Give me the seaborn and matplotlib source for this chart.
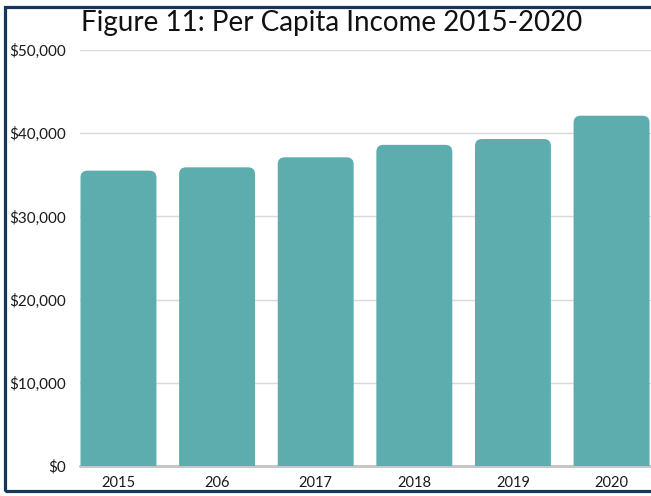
import matplotlib
matplotlib.use("Agg")
import matplotlib.pyplot as plt
import seaborn as sns
import pandas as pd
from matplotlib.patches import FancyBboxPatch, Rectangle

years = ["2015", "206", "2017", "2018", "2019", "2020"]
income = [35500, 35900, 37100, 38600, 39300, 42100]
y_ticks = [0, 10000, 20000, 30000, 40000, 50000]
y_labels = ["$0", "$10,000", "$20,000", "$30,000", "$40,000", "$50,000"]

bar_color = "#5DADAE"
frame_color = "#17365D"

sns.set_theme(style="white")
plt.rcParams["font.family"] = ["Lato", "DejaVu Sans"]

df = pd.DataFrame({"year": years, "income": income})

fig = plt.figure(figsize=(6.51, 4.96), dpi=100)
ax = fig.add_axes([80 / 651, 1 - 466 / 496, 571 / 651, 416 / 496])

sns.barplot(data=df, x="year", y="income", color=bar_color, width=0.77,
            saturation=1, ax=ax, zorder=3)

# swap plain rectangles for bars with rounded tops
px_x = 98.6  # pixels per category
px_y = 416 / 50000  # pixels per dollar
r_px = 7
for p in list(ax.patches):
    x, w, h = p.get_x(), p.get_width(), p.get_height()
    pad_x = r_px / px_x
    pad_y = r_px / px_y
    fb = FancyBboxPatch((x + pad_x, -3000 + pad_y), w - 2 * pad_x, h + 3000 - 2 * pad_y,
                        boxstyle=f"round,pad={pad_x}",
                        mutation_aspect=pad_y / pad_x,
                        facecolor=bar_color, edgecolor="none", zorder=3)
    ax.add_patch(fb)
    p.remove()

ax.set_xlim(-0.39, 5.40)
ax.set_ylim(0, 50000)
ax.set_yticks(y_ticks)
ax.set_yticklabels(y_labels)
ax.yaxis.grid(True, color="#D9D9D9", linewidth=1.0, zorder=0)
ax.axhline(0, color="#C6C6C6", linewidth=2.2, zorder=2, clip_on=False)
for s in ax.spines.values():
    s.set_visible(False)
ax.set_xlabel("")
ax.set_ylabel("")
ax.tick_params(axis="y", length=0, pad=10, labelsize=11, labelcolor="#1A1A1A")
ax.tick_params(axis="x", length=0, pad=7, labelsize=10.5, labelcolor="#1A1A1A")

fig.text(332 / 651, 1 - 23 / 496, "Figure 11: Per Capita Income 2015-2020",
         ha="center", va="center", fontsize=20, color="#111111")

fig.patches.append(Rectangle((4.5 / 651, 1 - 491 / 496), 660 / 651, 484 / 496,
                             transform=fig.transFigure, fill=False,
                             edgecolor=frame_color, linewidth=2.3, zorder=10))

fig.savefig("out.png", dpi=100)
